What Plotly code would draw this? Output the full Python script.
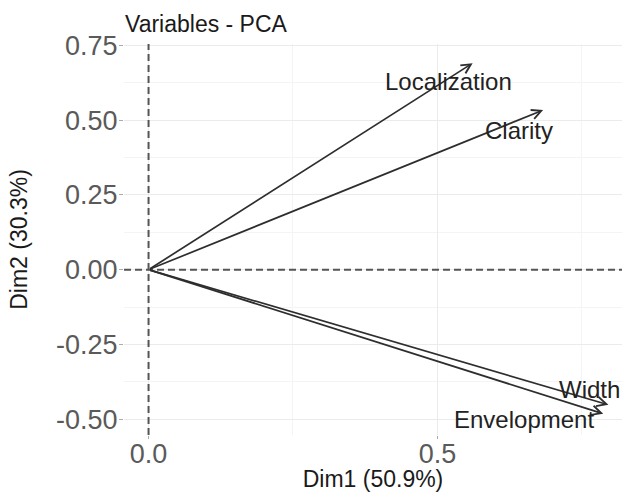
import plotly.graph_objects as go

variables = ["Localization", "Clarity", "Width", "Envelopment"]
dim1 = [0.561, 0.683, 0.796, 0.787]
dim2 = [0.691, 0.534, -0.452, -0.482]
label_x = [0.519, 0.642, 0.764, 0.650]
label_y = [0.628, 0.466, -0.400, -0.500]

x_ticks = [0.0, 0.5]
x_ticktext = ["0.0", "0.5"]
y_ticks = [-0.5, -0.25, 0.0, 0.25, 0.5, 0.75]
y_ticktext = ["-0.50", "-0.25", "0.00", "0.25", "0.50", "0.75"]
x_minor = [0.25, 0.75]
y_minor = [-0.375, -0.125, 0.125, 0.375, 0.625]

FONT = "Liberation Sans, Arial, sans-serif"

fig = go.Figure()
# invisible trace to establish axes
fig.add_trace(go.Scatter(x=dim1, y=dim2, mode="markers",
                         marker=dict(opacity=0), hoverinfo="skip", showlegend=False))

annotations = []
for v, x, y in zip(variables, dim1, dim2):
    annotations.append(dict(x=x, y=y, ax=0, ay=0, xref="x", yref="y",
                            axref="x", ayref="y", text="", showarrow=True,
                            arrowhead=5, arrowsize=1.1, arrowwidth=1.7,
                            arrowcolor="#2e2e2e", standoff=0))
for v, x, y in zip(variables, label_x, label_y):
    annotations.append(dict(x=x, y=y, xref="x", yref="y", text=v, showarrow=False,
                            font=dict(family=FONT, size=24, color="#222222"),
                            xanchor="center", yanchor="middle"))

fig.add_shape(type="line", xref="x", yref="paper", x0=0, x1=0, y0=0, y1=1,
              line=dict(color="#555555", width=2, dash="7px,4px"), layer="above")
fig.add_shape(type="line", xref="paper", yref="y", x0=0, x1=1, y0=0, y1=0,
              line=dict(color="#555555", width=2, dash="7px,4px"), layer="above")

fig.update_layout(
    width=622, height=492,
    margin=dict(l=124, r=0, t=44, b=57, autoexpand=False),
    paper_bgcolor="white", plot_bgcolor="white",
    font=dict(family=FONT),
    title=dict(text="Variables - PCA", x=125/622, xanchor="left", xref="container",
               y=1 - 24/492, yanchor="middle", yref="container",
               font=dict(family=FONT, size=23, color="#1a1a1a")),
    annotations=annotations,
    showlegend=False,
)
fig.update_xaxes(range=[-0.0425, 0.8195], tickvals=x_ticks, ticktext=x_ticktext,
                 showgrid=True, gridcolor="#ebebeb", gridwidth=1, zeroline=False,
                 ticks="outside", ticklen=3, tickcolor="#aaaaaa", showline=False,
                 ticklabelstandoff=-8, automargin=False,
                 tickfont=dict(family=FONT, size=27, color="#5a5a5a"),
                 minor=dict(tickvals=x_minor, showgrid=True, gridcolor="#f4f4f4", gridwidth=1),
                 title=dict(text="Dim1 (50.9%)", font=dict(family=FONT, size=23, color="#1a1a1a"),
                            standoff=0))
fig.update_yaxes(range=[-0.553, 0.755], tickvals=y_ticks, ticktext=y_ticktext,
                 showgrid=True, gridcolor="#ebebeb", gridwidth=1, zeroline=False,
                 ticks="outside", ticklen=4, tickcolor="#aaaaaa", showline=False,
                 ticklabelstandoff=-4, automargin=False,
                 tickfont=dict(family=FONT, size=27, color="#5a5a5a"),
                 minor=dict(tickvals=y_minor, showgrid=True, gridcolor="#f4f4f4", gridwidth=1),
                 title=dict(text="Dim2 (30.3%)", font=dict(family=FONT, size=23, color="#1a1a1a"),
                            standoff=22))

fig.write_html("out.html")
